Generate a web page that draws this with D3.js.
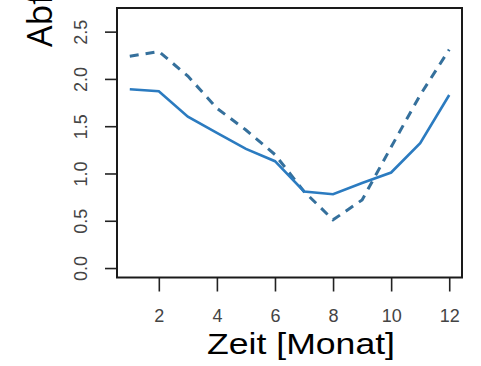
<!DOCTYPE html>
<html>
<head>
<meta charset="utf-8">
<script src="https://cdn.jsdelivr.net/npm/d3@7"></script>
<style>
  html, body { margin: 0; padding: 0; background: #fff; }
  svg { display: block; }
</style>
</head>
<body>
<svg id="chart" width="481" height="366"></svg>
<script>
// ---- data ----
const months = [1, 2, 3, 4, 5, 6, 7, 8, 9, 10, 11, 12];
const solidValues  = [1.89, 1.87, 1.60, 1.43, 1.26, 1.13, 0.81, 0.78, 0.90, 1.01, 1.32, 1.83];
const dashedValues = [2.24, 2.29, 2.03, 1.69, 1.46, 1.20, 0.81, 0.51, 0.72, 1.28, 1.83, 2.31];
const xTicks = [2, 4, 6, 8, 10, 12];
const yTicks = [0, 0.5, 1.0, 1.5, 2.0, 2.5];
const xLabel = "Zeit [Monat]";
const yLabel = "Abfluss";

// ---- layout ----
const svg = d3.select("#chart");
const L = 117, R = 462, T = 8, B = 277.5;

const x = d3.scaleLinear().domain([0.56, 12.44]).range([L, R]);
const y = d3.scaleLinear().domain([-0.1, 2.75]).range([B, T]);

const tickFont = "'Liberation Sans', Arial, sans-serif";

// axes (R style: ticks outside, separate from box)
const yAxis = svg.append("g")
  .attr("transform", `translate(${L},0)`)
  .call(d3.axisLeft(y).tickValues(yTicks).tickSize(12).tickFormat(d3.format(".1f")));
yAxis.attr("font-size", null).attr("font-family", null);
yAxis.select(".domain").remove();
yAxis.selectAll(".tick line").attr("stroke", "#222").attr("stroke-width", 1.6);
yAxis.selectAll(".tick text")
  .attr("x", 0).attr("y", 0).attr("dy", 0)
  .attr("text-anchor", "middle")
  .attr("transform", "translate(-30,0) rotate(-90)")
  .attr("fill", "#444")
  .style("font-family", tickFont)
  .style("font-size", "18px");

const xAxis = svg.append("g")
  .attr("transform", `translate(0,${B})`)
  .call(d3.axisBottom(x).tickValues(xTicks).tickSize(14).tickFormat(d3.format("d")));
xAxis.attr("font-size", null).attr("font-family", null);
xAxis.select(".domain").remove();
xAxis.selectAll(".tick line").attr("stroke", "#222").attr("stroke-width", 1.6);
xAxis.selectAll(".tick text")
  .attr("y", 44.5).attr("dy", 0)
  .attr("fill", "#444")
  .style("font-family", tickFont)
  .style("font-size", "18px");

// box
svg.append("rect")
  .attr("x", L).attr("y", T)
  .attr("width", R - L).attr("height", B - T)
  .attr("fill", "none").attr("stroke", "#1a1a1a").attr("stroke-width", 2);

// lines
const line = d3.line().x((d, i) => x(months[i])).y(d => y(d));

svg.append("path")
  .datum(dashedValues)
  .attr("d", line)
  .attr("fill", "none")
  .attr("stroke", "#35709c")
  .attr("stroke-width", 3)
  .attr("stroke-dasharray", "9,7");

svg.append("path")
  .datum(solidValues)
  .attr("d", line)
  .attr("fill", "none")
  .attr("stroke", "#2b7bc0")
  .attr("stroke-width", 2.6);

// axis titles
svg.append("text")
  .attr("x", 301).attr("y", 354)
  .attr("text-anchor", "middle")
  .attr("textLength", 188)
  .attr("lengthAdjust", "spacingAndGlyphs")
  .attr("fill", "#000")
  .style("font-family", "'Liberation Sans', Arial, sans-serif")
  .style("font-size", "30px")
  .text(xLabel);

svg.append("text")
  .attr("transform", "translate(52,47) rotate(-90)")
  .attr("text-anchor", "start")
  .attr("fill", "#000")
  .style("font-family", "'Open Sans', 'Noto Sans', sans-serif")
  .style("font-size", "34px")
  .text(yLabel);
</script>
</body>
</html>
